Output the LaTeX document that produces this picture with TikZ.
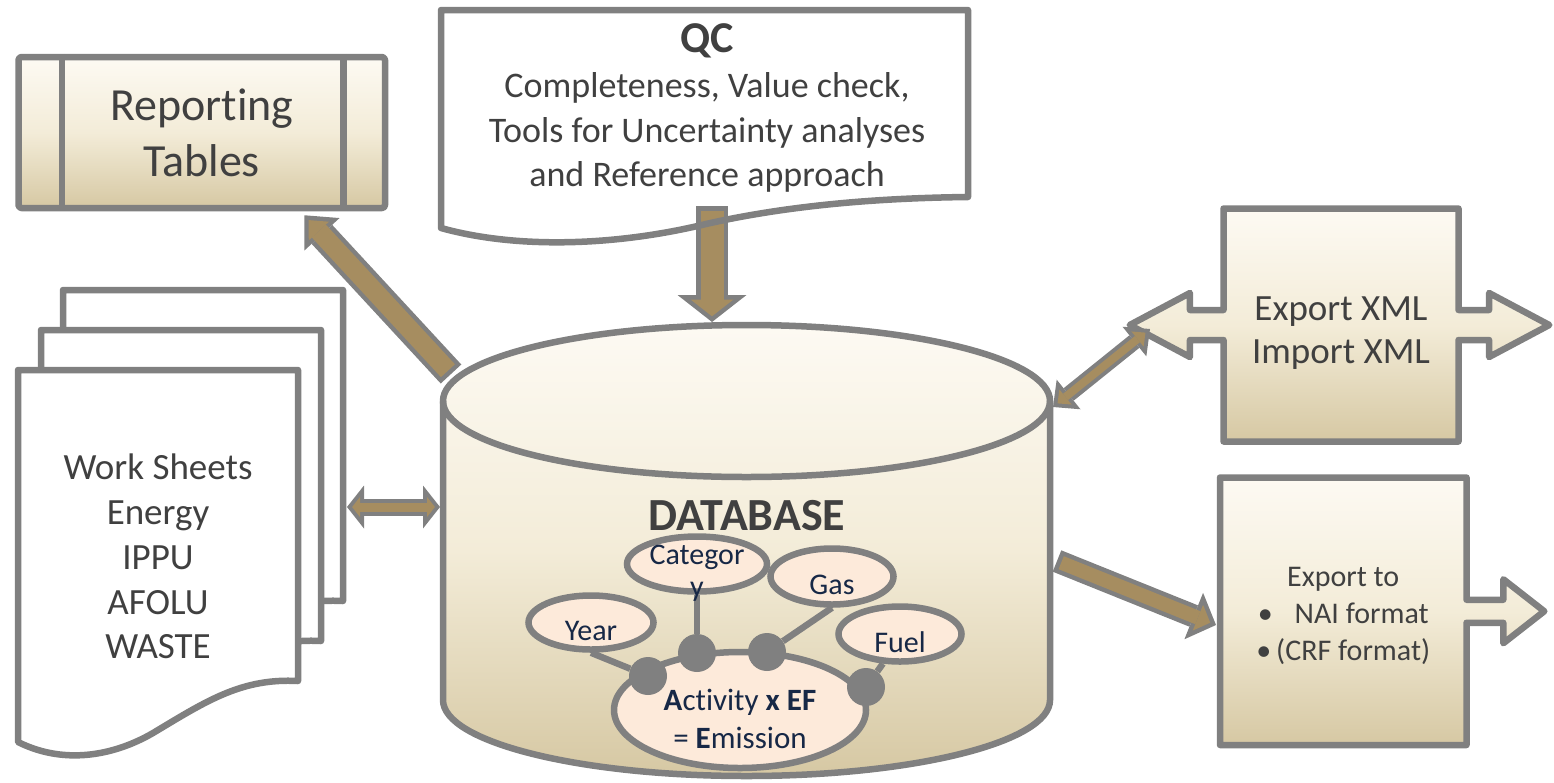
\documentclass[tikz,border=0pt]{standalone}
\usepackage{fontspec}
\setmainfont{Carlito}[Ligatures=NoCommon]
\usetikzlibrary{positioning,arrows.meta,shapes.geometric,shapes.arrows,calc}

\definecolor{edgegray}{RGB}{128,128,128}
\definecolor{arrowtan}{RGB}{166,141,96}
\definecolor{creamtop}{RGB}{253,250,243}
\definecolor{creammid}{RGB}{243,236,216}
\definecolor{tanbot}{RGB}{214,200,163}
\definecolor{peach}{RGB}{253,234,218}
\definecolor{inktext}{RGB}{64,64,64}
\definecolor{navytext}{RGB}{23,40,70}

\begin{document}
\begin{tikzpicture}[x=1pt, y=1pt,
    boxfill/.style={draw=edgegray, line width=6.5pt, line join=round,
        top color=creamtop, bottom color=tanbot, middle color=creammid,
        text=inktext, align=center, inner sep=0pt},
    sheetline/.style={draw=edgegray, fill=white, line width=6.5pt, line join=round},
    sheet/.pic={
        \draw[sheetline] (0,0) -- (280,0) -- (280,-311)
            .. controls (225,-308) and (190,-330) .. (140,-360)
            .. controls (100,-385) and (48,-396) .. (0,-372) -- cycle;
    },
    tag/.style={ellipse, draw=edgegray, line width=6.5pt, fill=peach, inner sep=0pt},
    tagtext/.style={text=navytext, font=\fontsize{30}{32}\selectfont, align=center},
    dot/.style={circle, fill=edgegray, minimum size=38pt, inner sep=0pt},
    link/.style={draw=edgegray, line width=6.5pt},
    repline/.style={draw=arrowtan, line width=19pt, shorten >=6.6pt, shorten <=4.5pt,
        -{Triangle[width=27.5pt,length=14.9pt,line width=0pt]},
        preaction={draw=edgegray, line width=28pt, shorten >=0pt, shorten <=0pt,
            -{Triangle[width=48pt,length=26pt,line width=0pt]}}},
    qcline/.style={draw=arrowtan, line width=23pt, shorten >=5.7pt, shorten <=4.5pt,
        -{Triangle[width=42.9pt,length=16.8pt,line width=0pt]},
        preaction={draw=edgegray, line width=32pt, shorten >=0pt, shorten <=0pt,
            -{Triangle[width=69pt,length=27pt,line width=0pt]}}},
    wsline/.style={draw=arrowtan, line width=9pt, shorten >=5.1pt, shorten <=5.1pt,
        {Triangle[width=20pt,length=7.9pt,line width=0pt]}-{Triangle[width=20pt,length=7.9pt,line width=0pt]},
        preaction={draw=edgegray, line width=17pt, shorten >=0pt, shorten <=0pt,
            {Triangle[width=43pt,length=17pt,line width=0pt]}-{Triangle[width=43pt,length=17pt,line width=0pt]}}},
    xmlline/.style={draw=arrowtan, line width=8pt, shorten >=5.8pt, shorten <=5.8pt,
        {Triangle[width=19.4pt,length=10.2pt,line width=0pt]}-{Triangle[width=19.4pt,length=10.2pt,line width=0pt]},
        preaction={draw=edgegray, line width=16pt, shorten >=0pt, shorten <=0pt,
            {Triangle[width=38pt,length=20pt,line width=0pt]}-{Triangle[width=38pt,length=20pt,line width=0pt]}}},
    nailine/.style={draw=arrowtan, line width=14pt, shorten >=6.2pt, shorten <=4.5pt,
        -{Triangle[width=27.7pt,length=13.3pt,line width=0pt]},
        preaction={draw=edgegray, line width=23pt, shorten >=0pt, shorten <=0pt,
            -{Triangle[width=50pt,length=24pt,line width=0pt]}}}
    ]
    \useasboundingbox (0,0) rectangle (1554,-782);

    %Work sheets
    \pic (back) at (63,-290) {sheet};
    \pic (middle) at (41,-330) {sheet};
    \pic (front) at (18,-370) {sheet};
    \node[text=inktext, align=center, anchor=north, inner sep=0pt,
        font=\fontsize{37}{44.7}\selectfont]
        (ws) at (158,-454) {Work Sheets\\Energy\\IPPU\\AFOLU\\WASTE};
    \coordinate (wsedge) at (347,-507);

    %Reporting tables
    \node[boxfill, rounded corners=3pt, minimum width=366.5pt, minimum height=151pt,
        font=\fontsize{46}{56}\selectfont]
        (rep) at (201.75,-132.5) {Reporting\\Tables};
    \draw[draw=edgegray, line width=6.5pt]
        ([xshift=46.5pt]rep.north west) -- ([xshift=46.5pt]rep.south west);
    \draw[draw=edgegray, line width=6.5pt]
        ([xshift=-45pt]rep.north east) -- ([xshift=-45pt]rep.south east);

    %Database
    \coordinate (db) at (746.5,-401);
    \draw[draw=edgegray, line width=6.5pt, top color=creamtop, bottom color=tanbot, middle color=creammid]
        ($(db)+(-303.5,0)$) -- ++(0,-299)
        arc[start angle=180, end angle=360, x radius=303.5, y radius=76] -- ++(0,299)
        arc[start angle=0, end angle=180, x radius=303.5, y radius=76] -- cycle;
    \draw[draw=edgegray, line width=6.5pt]
        ($(db)+(-303.5,0)$) arc[start angle=180, end angle=360, x radius=303.5, y radius=76];
    \node[text=inktext, anchor=base, font=\fontsize{46}{50}\selectfont\bfseries]
        (dbname) at (747,-530) {DATABASE};

    \node[tag, minimum width=140pt, minimum height=55pt] (cat) at (697,-564) {};
    \node[tag, minimum width=123pt, minimum height=56pt,
        label={[tagtext, yshift=-8pt]center:Gas}] (gas) at (832,-576.5) {};
    \node[tag, minimum width=125pt, minimum height=54pt,
        label={[tagtext, yshift=-8.5pt]center:Year}] (year) at (591,-622.5) {};
    \node[tag, minimum width=123pt, minimum height=55pt,
        label={[tagtext, yshift=-8.3pt]center:Fuel}] (fuel) at (900,-634) {};
    \node[tag, minimum width=252pt, minimum height=116pt,
        label={[tagtext, font=\fontsize{31}{38}\selectfont, yshift=-9pt]center:{\textbf{A}ctivity \textbf{x EF}\\= \textbf{E}mission}}]
        (act) at (740,-710) {};

    \node[dot] (d1) at (648,-676) {};
    \node[dot] (d2) at (697,-653) {};
    \node[dot] (d3) at (767,-652) {};
    \node[dot] (d4) at (866,-687) {};
    \draw[link] (year.south) -- (d1);
    \draw[link] (cat.south) -- (d2);
    \draw[link] (gas.south) -- (d3);
    \draw[link] (fuel.240) -- (d4);
    \node[tagtext, yshift=-9pt] (cattext) at (cat) {Categor\\y};

    %QC
    \coordinate (qcfoot) at (712,-206);
    \draw[qcline] (qcfoot) -- ($(db)+(-34.5,79)$);
    \draw[draw=edgegray, line width=6.5pt, line join=round]
        (441,-10) -- (968,-10) -- (968,-197)
        .. controls (880,-198) and (790,-205) .. (706,-224)
        .. controls (620,-245) and (520,-250) .. (441,-228) -- cycle;
    \node[text=inktext, align=center, anchor=north, inner sep=0pt,
        font=\fontsize{36}{44.5}\selectfont]
        (qc) at (707,-23) {{\fontsize{44}{48}\selectfont\bfseries QC}\\[1pt]Completeness, Value check,\\Tools for Uncertainty analyses\\and Reference approach};

    %Export boxes
    \node[boxfill, arrow box, minimum width=235pt, minimum height=233pt,
        arrow box arrows={west:90.5pt, east:87.5pt}, arrow box shaft width=30pt,
        arrow box head extend=17pt, arrow box tip angle=56,
        font=\fontsize{37}{43}\selectfont]
        (xml) at (1341,-325) {\rule{0pt}{40pt}Export XML\\Import XML};
    \node[boxfill, arrow box, minimum width=246.5pt, minimum height=267.5pt,
        arrow box arrows={east:74.5pt}, arrow box shaft width=23pt,
        arrow box head extend=20.5pt, arrow box tip angle=76,
        font=\fontsize{30}{37}\selectfont]
        (nai) at (1343.25,-611.25) {\rule{0pt}{29pt}Export to\\\textbullet\hspace{22pt}NAI format\\\textbullet\,(CRF format)};

    %Arrows
    \draw[repline] ($(db)+(-295.5,27)$) -- ($(rep.south east)+(-84,-4)$);
    \draw[wsline] (wsedge) -- ($(db)+(-306.5,-106)$);
    \draw[xmlline] ($(db)+(306.5,-6)$) -- ($(xml.center)+(-191,-4)$);
    \draw[nailine] ($(db)+(310.5,-160)$) -- ($(nai.center)+(-127.25,-13.75)$);
\end{tikzpicture}
\end{document}
